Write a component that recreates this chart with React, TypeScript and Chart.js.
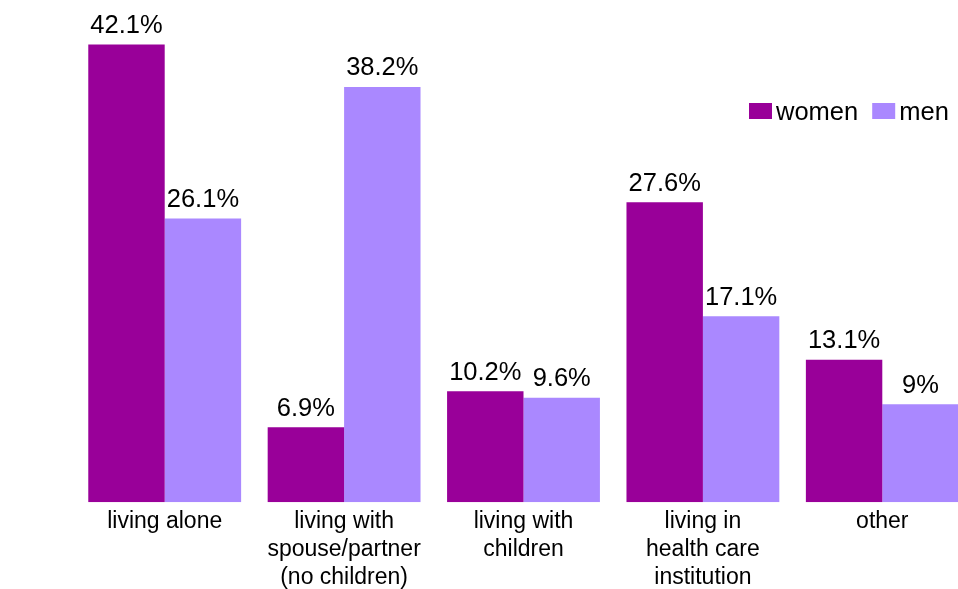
import React, { useEffect, useRef } from "react";
import { Chart, registerables } from "chart.js";

Chart.register(...registerables);

const categories: string[][] = [
  ["living alone"],
  ["living with", "spouse/partner", "(no children)"],
  ["living with", "children"],
  ["living in", "health care", "institution"],
  ["other"],
];
const women: number[] = [42.1, 6.9, 10.2, 27.6, 13.1];
const men: number[] = [26.1, 38.2, 9.6, 17.1, 9];
const seriesNames = ["women", "men"];
const colors = ["#990099", "#aa88ff"];

const FONT = "'Liberation Sans', Arial, sans-serif";

const valueLabels = {
  id: "valueLabels",
  afterDatasetsDraw(chart: any) {
    const ctx = chart.ctx;
    ctx.save();
    ctx.font = `25.5px ${FONT}`;
    ctx.fillStyle = "#000";
    ctx.textAlign = "center";
    ctx.textBaseline = "alphabetic";
    chart.data.datasets.forEach((ds: any, di: number) => {
      const meta = chart.getDatasetMeta(di);
      meta.data.forEach((bar: any, i: number) => {
        ctx.fillText(`${ds.data[i]}%`, bar.x, bar.y - 11.5);
      });
    });
    ctx.restore();
  },
};

const boxLegend = {
  id: "boxLegend",
  afterDraw(chart: any) {
    const ctx = chart.ctx;
    ctx.save();
    ctx.font = `25.5px ${FONT}`;
    ctx.textBaseline = "alphabetic";
    ctx.textAlign = "left";
    let x = 749;
    const top = 103;
    chart.data.datasets.forEach((ds: any) => {
      ctx.fillStyle = ds.backgroundColor;
      ctx.fillRect(x, top, 23, 16);
      ctx.fillStyle = "#000";
      ctx.fillText(ds.label, x + 27, top + 17);
      x += 27 + ctx.measureText(ds.label).width + 14;
    });
    ctx.restore();
  },
};

export default function App() {
  const ref = useRef<HTMLCanvasElement>(null);
  useEffect(() => {
    if (!ref.current) return;
    const chart = new Chart(ref.current, {
      type: "bar",
      data: {
        labels: categories,
        datasets: [
          { label: seriesNames[0], data: women, backgroundColor: colors[0] },
          { label: seriesNames[1], data: men, backgroundColor: colors[1] },
        ],
      },
      options: {
        responsive: false,
        animation: false,
        layout: { padding: { left: 75, right: 8, top: 0, bottom: 0 } },
        datasets: {
          bar: { categoryPercentage: 0.852, barPercentage: 1 },
        },
        plugins: {
          legend: { display: false },
          tooltip: { enabled: false },
        },
        scales: {
          x: {
            grid: { display: false, drawTicks: false },
            border: { display: false },
            ticks: {
              color: "#000",
              font: { family: FONT, size: 23, lineHeight: 1.2 },
              padding: 6,
              maxRotation: 0,
              autoSkip: false,
            },
          },
          y: {
            display: false,
            min: 0,
            max: 46.2,
          },
        },
      },
      plugins: [valueLabels, boxLegend],
    });
    return () => chart.destroy();
  }, []);
  return (
    <div
      style={{
        position: "absolute",
        left: 0,
        top: 0,
        width: 958,
        height: 589,
        overflow: "hidden",
        background: "#fff",
      }}
    >
      <canvas ref={ref} width={980} height={597} style={{ display: "block" }} />
    </div>
  );
}
